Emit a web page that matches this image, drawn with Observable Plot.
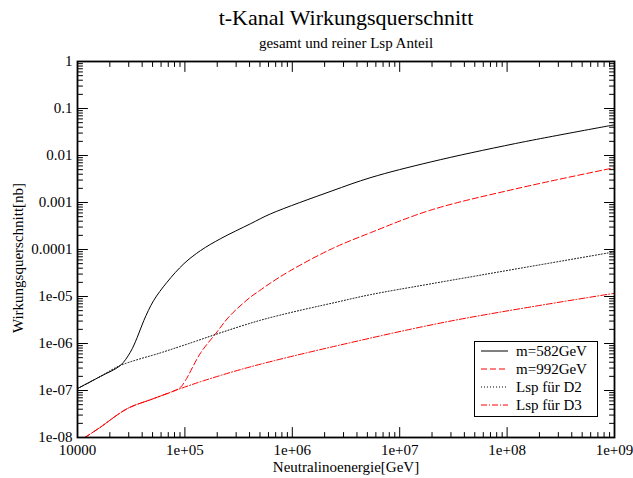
<!DOCTYPE html>
<html>
<head>
<meta charset="utf-8">
<script src="https://cdn.jsdelivr.net/npm/d3@7"></script>
<script src="https://cdn.jsdelivr.net/npm/@observablehq/plot@0.6"></script>
<style>
  body { margin: 0; background: #fff; }
  #chart { position: relative; width: 633px; height: 478px; font-family: "Liberation Serif", "Times New Roman", serif; color: #000; }
  .t { position: absolute; white-space: nowrap; transform: translate(-50%, -50%); line-height: 1; }
  #legend { position: absolute; left: 474px; top: 341px; }
</style>
</head>
<body>
<div id="chart"></div>
<script>
// Cross sections in nb versus neutralino energy in GeV
const energyM582 = [1e4, 1.64e4, 2.5e4, 3.1e4, 3.6e4, 4.15e4, 5.1e4, 6.8e4, 9.8e4, 1.4e5, 2.15e5, 4.1e5, 6.3e5, 2.3e6, 5.4e6, 1.95e7, 1.2e8, 1e9];
const sigmaM582  = [1.1e-7, 2.0e-7, 3.4e-7, 6.5e-7, 1.35e-6, 3.1e-6, 8.1e-6, 2.0e-5, 5.0e-5, 9.5e-5, 1.7e-4, 3.55e-4, 5.75e-4, 1.74e-3, 3.4e-3, 7.3e-3, 1.8e-2, 4.5e-2];

const energyM992 = [1.17e4, 1.6e4, 2.9e4, 5e4, 8.1e4, 9.1e4, 1.01e5, 1.4e5, 1.95e5, 2.6e5, 4.1e5, 5e5, 6.3e5, 9.5e5, 2.3e6, 5.4e6, 1.95e7, 1.2e8, 1e9];
const sigmaM992  = [1e-8, 1.6e-8, 4.1e-8, 6.6e-8, 1.0e-7, 1.17e-7, 1.62e-7, 6.3e-7, 1.66e-6, 3.8e-6, 9.8e-6, 1.35e-5, 1.95e-5, 3.5e-5, 1.02e-4, 2.3e-4, 6.9e-4, 1.95e-3, 5.5e-3];

const energyD2 = [1e4, 1.64e4, 2.5e4, 5.9e4, 9.1e4, 5e5, 2.8e6, 5.4e6, 1.95e7, 1e9];
const sigmaD2  = [1.1e-7, 2.0e-7, 3.4e-7, 6.3e-7, 8.7e-7, 3.1e-6, 7.9e-6, 1.1e-5, 1.86e-5, 8.9e-5];

const energyD3 = [1.17e4, 1.6e4, 2.9e4, 5e4, 8.1e4, 9.1e4, 1.5e5, 4.1e5, 2.8e6, 3.2e7, 1e9];
const sigmaD3  = [1e-8, 1.6e-8, 4.1e-8, 6.6e-8, 1.0e-7, 1.1e-7, 1.62e-7, 3.2e-7, 9.3e-7, 3.1e-6, 1.17e-5];

const seriesNames = ["m=582GeV", "m=992GeV", "Lsp für D2", "Lsp für D3"];

// Axis ticks and their labels
const xMajor = [1e4, 1e5, 1e6, 1e7, 1e8, 1e9];
const xTickLabels = ["10000", "1e+05", "1e+06", "1e+07", "1e+08", "1e+09"];
const yMajor = [1e-8, 1e-7, 1e-6, 1e-5, 1e-4, 1e-3, 1e-2, 1e-1, 1];
const yTickLabels = ["1e-08", "1e-07", "1e-06", "1e-05", "0.0001", "0.001", "0.01", "0.1", "1"];

const title = "t-Kanal Wirkungsquerschnitt";
const subtitle = "gesamt und reiner Lsp Anteil";
const xTitle = "Neutralinoenergie[GeV]";
const yTitle = "Wirkungsquerschnitt[nb]";

// Line styles per series
const styles = [
  {stroke: "#000000", dash: null},
  {stroke: "#ff0000", dash: "6,3"},
  {stroke: "#000000", dash: "1,2"},
  {stroke: "#ff0000", dash: "6,2,1,2"}
];

const toRows = (xs, ys) => xs.map((e, i) => ({e, s: ys[i]}));
const series = [
  toRows(energyM582, sigmaM582),
  toRows(energyM992, sigmaM992),
  toRows(energyD2, sigmaD2),
  toRows(energyD3, sigmaD3)
];

// Minor ticks at 2..9 within each decade
const minorTicks = (lo, hi) => {
  const out = [];
  for (let k = lo; k < hi; k++) for (let m = 2; m <= 9; m++) out.push(m * Math.pow(10, k));
  return out;
};
const xMinor = minorTicks(4, 9);
const yMinor = minorTicks(-8, 0);

// Inward tick shape: a straight stroke from the anchor point
const tickShape = {draw(ctx, l) { ctx.moveTo(0, 0); ctx.lineTo(0, -l); }};
const inwardTicks = (major, minor) => [
  Plot.vectorX(major, {frameAnchor: "bottom", length: 10, rotate: 0, anchor: "start", shape: tickShape, strokeWidth: 1}),
  Plot.vectorX(minor, {frameAnchor: "bottom", length: 5, rotate: 0, anchor: "start", shape: tickShape, strokeWidth: 1}),
  Plot.vectorX(major, {frameAnchor: "top", length: 10, rotate: 180, anchor: "start", shape: tickShape, strokeWidth: 1}),
  Plot.vectorX(minor, {frameAnchor: "top", length: 5, rotate: 180, anchor: "start", shape: tickShape, strokeWidth: 1})
];
const inwardTicksY = (major, minor) => [
  Plot.vectorY(major, {frameAnchor: "left", length: 10, rotate: 90, anchor: "start", shape: tickShape, strokeWidth: 1}),
  Plot.vectorY(minor, {frameAnchor: "left", length: 5, rotate: 90, anchor: "start", shape: tickShape, strokeWidth: 1}),
  Plot.vectorY(major, {frameAnchor: "right", length: 10, rotate: -90, anchor: "start", shape: tickShape, strokeWidth: 1}),
  Plot.vectorY(minor, {frameAnchor: "right", length: 5, rotate: -90, anchor: "start", shape: tickShape, strokeWidth: 1})
];

const chart = Plot.plot({
  width: 633,
  height: 478,
  marginLeft: 77,
  marginRight: 19,
  marginTop: 61,
  marginBottom: 41,
  style: {fontFamily: "'Liberation Serif', 'Times New Roman', serif", fontSize: "15px", background: "#fff", color: "#000"},
  x: {type: "log", domain: [1e4, 1e9], label: null},
  y: {type: "log", domain: [1e-8, 1], label: null},
  marks: [
    ...series.map((rows, i) => Plot.line(rows, {
      x: "e", y: "s",
      stroke: styles[i].stroke,
      strokeWidth: 1,
      strokeDasharray: styles[i].dash,
      curve: "catmull-rom",
      clip: true
    })),
    ...inwardTicks(xMajor, xMinor),
    ...inwardTicksY(yMajor, yMinor),
    Plot.axisX(xMajor, {tickSize: 0, tickPadding: 7, fontSize: 15, label: null,
      tickFormat: d => xTickLabels[xMajor.indexOf(d)]}),
    Plot.axisY(yMajor, {tickSize: 0, tickPadding: 5, fontSize: 15, label: null,
      tickFormat: d => yTickLabels[yMajor.indexOf(d)]}),
    Plot.frame({stroke: "#000", strokeWidth: 1.8})
  ]
});

const root = document.getElementById("chart");
root.appendChild(chart);

// Titles
const addText = (txt, x, y, size, rotate) => {
  const d = document.createElement("div");
  d.className = "t";
  d.textContent = txt;
  d.style.left = x + "px";
  d.style.top = y + "px";
  d.style.fontSize = size + "px";
  if (rotate) d.style.transform = `translate(-50%, -50%) rotate(${rotate}deg)`;
  root.appendChild(d);
};
addText(title, 346, 18, 22);
addText(subtitle, 346, 43, 15);
addText(xTitle, 346, 467, 15);
addText(yTitle, 18, 258, 15, -90);

// Legend box
const ns = "http://www.w3.org/2000/svg";
const lg = document.createElementNS(ns, "svg");
lg.setAttribute("id", "legend");
lg.setAttribute("width", 125);
lg.setAttribute("height", 77);
const box = document.createElementNS(ns, "rect");
box.setAttribute("x", 0.5); box.setAttribute("y", 0.5);
box.setAttribute("width", 123); box.setAttribute("height", 75);
box.setAttribute("fill", "#fff"); box.setAttribute("stroke", "#000");
lg.appendChild(box);
seriesNames.forEach((name, i) => {
  const cy = 10 + i * 18;
  const ln = document.createElementNS(ns, "line");
  ln.setAttribute("x1", 7); ln.setAttribute("x2", 34);
  ln.setAttribute("y1", cy); ln.setAttribute("y2", cy);
  ln.setAttribute("stroke", styles[i].stroke);
  if (styles[i].dash) ln.setAttribute("stroke-dasharray", styles[i].dash);
  lg.appendChild(ln);
  const tx = document.createElementNS(ns, "text");
  tx.setAttribute("x", 42); tx.setAttribute("y", cy);
  tx.setAttribute("dy", "0.33em");
  tx.setAttribute("font-size", 15);
  tx.setAttribute("font-family", "'Liberation Serif', 'Times New Roman', serif");
  tx.textContent = name;
  lg.appendChild(tx);
});
root.appendChild(lg);
</script>
</body>
</html>
